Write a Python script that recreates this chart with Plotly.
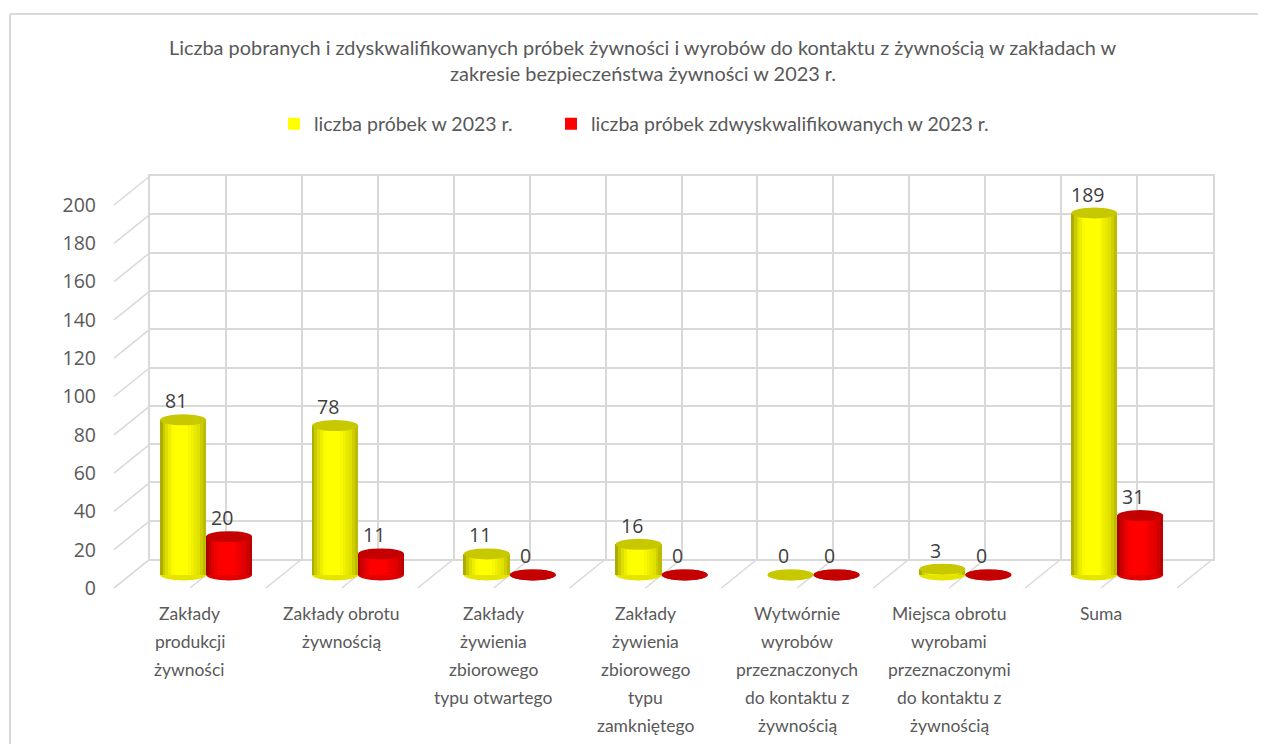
import plotly.graph_objects as go

# ---------------- data ----------------
categories = [
    "Zakłady<br>produkcji<br>żywności",
    "Zakłady obrotu<br>żywnością",
    "Zakłady<br>żywienia<br>zbiorowego<br>typu otwartego",
    "Zakłady<br>żywienia<br>zbiorowego<br>typu<br>zamkniętego",
    "Wytwórnie<br>wyrobów<br>przeznaczonych<br>do kontaktu z<br>żywnością",
    "Miejsca obrotu<br>wyrobami<br>przeznaczonymi<br>do kontaktu z<br>żywnością",
    "Suma",
]
samples = [81, 78, 11, 16, 0, 3, 189]
disqualified = [20, 11, 0, 0, 0, 0, 31]
series_names = ["liczba próbek w 2023 r.", "liczba próbek zdwyskwalifikowanych w 2023 r."]
y_ticks = [0, 20, 40, 60, 80, 100, 120, 140, 160, 180, 200]
title_lines = [
    "Liczba pobranych i zdyskwalifikowanych próbek żywności i wyrobów do kontaktu z żywnością w zakładach w",
    "zakresie bezpieczeństwa żywności w 2023 r.",
]

# ---------------- geometry (screen pixels of the target picture) ----------------
SW, SH = 1266, 744           # screen size
OX, OY = 8, 8                # page (body) margin the figure is offset by
W, H = SW - OX, SH - OY      # figure size so that it fits exactly in the window
N = len(categories)
YMAX = 200
BACK_X0, BACK_X1 = 150, 1213
BACK_Y0, BACK_Y1 = 559, 176            # pixel rows of value 0 and value 200 on back wall
DX, DY = 36, 29                        # back -> front shift (front = back + (-DX, +DY))
BAR_F = 0.45                           # bar plane position (fraction from front toward back)
SCALE = (BACK_Y0 - BACK_Y1) / YMAX     # px per unit

FRONT_X0, FRONT_X1 = BACK_X0 - DX, BACK_X1 - DX
FRONT_Y0, FRONT_Y1 = BACK_Y0 + DY, BACK_Y1 + DY
BAR_X0, BAR_X1 = FRONT_X0 + BAR_F * DX, FRONT_X1 + BAR_F * DX
BAR_Y0 = FRONT_Y0 - BAR_F * DY
BAR_YMIN, BAR_YMAX = -20, 215

CAT_PX = (BACK_X1 - BACK_X0) / N
BAR_W = 46 / CAT_PX                    # bar width in category units
RY = 5.5 / SCALE                       # ellipse half-height in value units


def fx(px):
    return (px - OX) / W


def fy(py):
    return 1 - (py - OY) / H


GRID = "#d9d9d9"
TXT = "#595959"
FONT = "Lato"
NUMFONT = "Open Sans"


def shade(t):
    pts = [(0.0, 0.62), (0.12, 0.84), (0.3, 1.0), (0.6, 1.0), (0.85, 0.87), (1.0, 0.70)]
    for (a, va), (b, vb) in zip(pts[:-1], pts[1:]):
        if a <= t <= b:
            return va + (vb - va) * (t - a) / (b - a)
    return pts[-1][1]


fig = go.Figure()

# invisible trace so that the back wall subplot is drawn
fig.add_trace(go.Scatter(x=[0], y=[0], xaxis="x", yaxis="y", mode="markers",
                         marker=dict(opacity=0), showlegend=False, hoverinfo="skip"))

series = [
    (samples, series_names[0], (255, 255, 0), "#c8c800", "#e4e400", -0.5, "legend"),
    (disqualified, series_names[1], (255, 0, 0), "#c40000", "#e00000", 0.5, "legend2"),
]

NS = 16
shapes = []
annotations = []
for vals, name, rgb, topc, botc, side, leg in series:
    centers = [k + 0.5 + side * BAR_W for k in range(N)]
    for c, v in zip(centers, vals):
        shapes.append(dict(type="circle", xref="x2", yref="y2", layer="between",
                           x0=c - BAR_W / 2, x1=c + BAR_W / 2, y0=-RY, y1=RY,
                           fillcolor=botc, line=dict(width=0)))
    for i in range(NS):
        t = (i + 0.5) / NS
        s = shade(t)
        col = "rgb(%d,%d,%d)" % tuple(int(round(ch * s)) for ch in rgb)
        xs = [c - BAR_W / 2 + (i + 0.5) * BAR_W / NS for c in centers]
        show = i == NS // 2
        fig.add_trace(go.Bar(
            x=xs, y=vals, width=BAR_W / NS * 1.15, xaxis="x2", yaxis="y2",
            marker=dict(color="rgb(%d,%d,%d)" % rgb if show else col, line=dict(width=0)),
            name=name, legendgroup=name, showlegend=show, legend=leg, hoverinfo="skip",
        ))
    for c, v in zip(centers, vals):
        shapes.append(dict(type="circle", xref="x2", yref="y2", layer="above",
                           x0=c - BAR_W / 2, x1=c + BAR_W / 2, y0=v - RY, y1=v + RY,
                           fillcolor=topc, line=dict(width=0)))
    for c, v in zip(centers, vals):
        annotations.append(dict(x=c, y=v, xref="x2", yref="y2", text=str(v),
                                showarrow=False, yshift=19, xshift=-7,
                                font=dict(family=NUMFONT, size=19.5, color="#404040")))

# side-wall diagonals
for v in y_ticks:
    shapes.append(dict(type="line", xref="paper", yref="paper", layer="below",
                       x0=fx(FRONT_X0), y0=fy(FRONT_Y0 - v * SCALE),
                       x1=fx(BACK_X0), y1=fy(BACK_Y0 - v * SCALE),
                       line=dict(color=GRID, width=1.5)))
# floor diagonals
for k in range(2 * N + 1):
    off = k * CAT_PX / 2
    shapes.append(dict(type="line", xref="paper", yref="paper", layer="below",
                       x0=fx(FRONT_X0 + off), y0=fy(FRONT_Y0),
                       x1=fx(BACK_X0 + off), y1=fy(BACK_Y0),
                       line=dict(color=GRID, width=1.5)))
# outer frame
shapes.append(dict(type="line", xref="paper", yref="paper", x0=fx(10), y0=fy(14), x1=1, y1=fy(14),
                   line=dict(color=GRID, width=2)))
shapes.append(dict(type="line", xref="paper", yref="paper", x0=fx(10), y0=fy(14), x1=fx(10), y1=0,
                   line=dict(color=GRID, width=2)))

# category labels (one annotation per line for Excel-like line spacing)
for k, cat in enumerate(categories):
    for j, line in enumerate(cat.split("<br>")):
        annotations.append(dict(x=k + 0.5, xref="x3", y=fy(613 + 28 * j), yref="paper",
                                text=line, showarrow=False, xanchor="center", yanchor="middle",
                                font=dict(family=FONT, size=17.5, color=TXT)))
# title
for j, line in enumerate(title_lines):
    annotations.append(dict(x=fx(643), y=fy(47 + 26 * j), xref="paper", yref="paper",
                            text=line, showarrow=False, xanchor="center", yanchor="middle",
                            font=dict(family=FONT, size=19.9, color=TXT)))

legend_common = dict(orientation="h", xanchor="left", yanchor="middle", y=fy(124),
                     font=dict(family=FONT, size=19.5, color=TXT),
                     itemwidth=30, bgcolor="rgba(0,0,0,0)")

fig.update_layout(
    width=W, height=H, autosize=False,
    margin=dict(l=0, r=0, t=0, b=0, pad=0, autoexpand=False),
    paper_bgcolor="white", plot_bgcolor="rgba(0,0,0,0)",
    barmode="overlay", bargap=0,
    showlegend=True,
    legend=dict(x=fx(274), **legend_common),
    legend2=dict(x=fx(551), **legend_common),
    # back wall
    xaxis=dict(domain=[fx(BACK_X0), fx(BACK_X1)], range=[0, N], anchor="y", automargin=False,
               tick0=0, dtick=0.5, showgrid=True, gridcolor=GRID, gridwidth=1.5,
               showticklabels=False, zeroline=False, showline=True, mirror=True,
               linecolor=GRID, linewidth=1.5, ticks=""),
    yaxis=dict(domain=[fy(BACK_Y0), fy(BACK_Y1)], range=[0, YMAX], anchor="x", automargin=False,
               tickvals=y_ticks, showgrid=True, gridcolor=GRID, gridwidth=1.5,
               showticklabels=False, zeroline=False, showline=True, mirror=True,
               linecolor=GRID, linewidth=1.5, ticks=""),
    # bar plane
    xaxis2=dict(domain=[fx(BAR_X0), fx(BAR_X1)], range=[0, N], anchor="y2", automargin=False,
                visible=False, fixedrange=True),
    yaxis2=dict(domain=[fy(BAR_Y0 - BAR_YMIN * SCALE), fy(BAR_Y0 - BAR_YMAX * SCALE)],
                range=[BAR_YMIN, BAR_YMAX], anchor="x2", visible=False, fixedrange=True,
                automargin=False),
    # front plane (value labels)
    xaxis3=dict(domain=[fx(FRONT_X0), fx(FRONT_X1)], range=[0, N], anchor="y3", automargin=False,
                showgrid=False, zeroline=False, showticklabels=False, ticks=""),
    yaxis3=dict(domain=[fy(FRONT_Y0), fy(FRONT_Y1)], range=[0, YMAX], anchor="x3", automargin=False,
                tickvals=y_ticks, showgrid=False, zeroline=False, ticks="",
                ticklabelstandoff=17,
                tickfont=dict(family=NUMFONT, size=19.5, color=TXT)),
    shapes=shapes,
    annotations=annotations,
)

fig.add_trace(go.Scatter(x=[0], y=[0], xaxis="x3", yaxis="y3", mode="markers",
                         marker=dict(opacity=0), showlegend=False, hoverinfo="skip"))

fig.write_html("out.html")
